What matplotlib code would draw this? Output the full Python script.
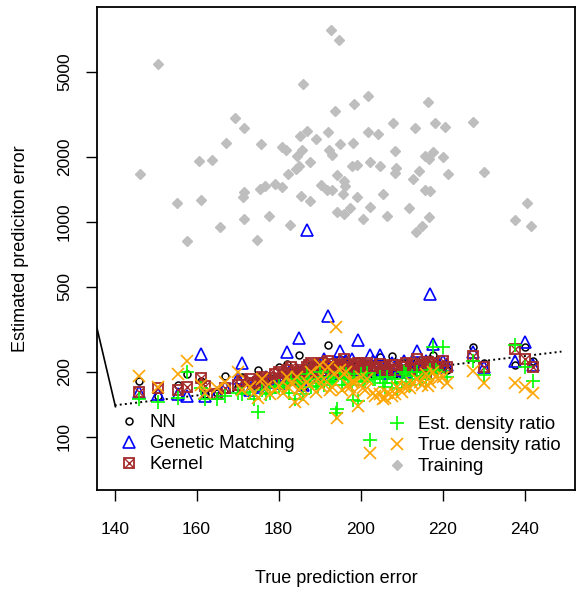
import numpy as np
import matplotlib.pyplot as plt
from matplotlib.lines import Line2D

plt.rcParams['font.family'] = ['Liberation Sans', 'DejaVu Sans']

# training-set error estimates (grey diamonds)
train_x = [150.6, 146.2, 155.2, 157.7, 160.6, 161.1, 163.8, 165.7, 167.2, 169.4,
           171.6, 171.6, 171.3, 171.6, 174.8, 175.7, 175.5, 176.7, 177.7, 179.1,
           180.9, 180.9, 181.9, 182.2, 182.8, 184.3, 185.0, 185.2, 184.5, 185.5,
           186.0, 185.7, 187.0, 187.7, 187.7, 189.1, 190.4, 191.8, 192.0, 192.3,
           192.8, 193.0, 193.0, 193.8, 194.3, 194.3, 194.8, 195.0, 195.7, 196.0,
           196.2, 196.0, 197.4, 197.9, 198.2, 198.4, 199.1, 199.1, 201.8, 216.5,
           207.9, 213.3, 218.2, 220.6, 227.4, 201.8, 204.3, 208.4, 215.7, 216.7,
           217.7, 220.1, 202.3, 204.8, 208.7, 208.4, 214.3, 212.8, 221.3, 230.1,
           205.5, 215.7, 217.0, 202.3, 211.8, 200.6, 206.5, 216.7, 215.0, 213.5,
           240.6, 237.7, 241.6]
train_y = [5443, 1667, 1229, 814, 1919, 1270, 1940, 947, 2333, 3028,
           2746, 1370, 1312, 1033, 822, 2308, 1415, 1463, 1067, 1495,
           2234, 1447, 2162, 1667, 968, 1759, 1817, 2518, 2025, 1326,
           4381, 2162, 2658, 1898, 1256, 2437, 1478, 1400, 2629, 2162,
           7790, 2048, 1400, 3268, 1648, 1115, 6987, 2308, 1341, 1544,
           1463, 1091, 1164, 1817, 2333, 3526, 1837, 1312, 3845, 3603,
           2900, 2746, 2900, 2776, 2931, 2629, 2573, 2139, 2025, 1961,
           2116, 2004, 1898, 1817, 1778, 1685, 1722, 1578, 1667, 1703,
           1355, 1400, 1385, 1177, 1164, 1033, 1067, 1056, 957, 897,
           1229, 1022, 957]

# true prediction error and the estimates of each method
true_err = [146.0, 150.5, 155.5, 157.7, 161.0, 162.0, 165.0, 167.0, 170.0, 171.0,
            173.0, 175.0, 176.0, 178.0, 180.0, 181.0, 182.0, 183.0, 184.0, 185.0,
            186.0, 187.0, 188.0, 189.0, 190.0, 191.0, 192.0, 193.0, 194.0, 195.0,
            196.0, 197.0, 198.0, 199.4, 200.0, 201.0, 202.3, 203.0, 204.8, 206.0,
            207.7, 209.0, 210.0, 211.0, 212.0, 213.8, 215.0, 216.0, 217.0, 217.7,
            219.0, 220.0, 221.0, 227.4, 230.0, 237.7, 240.0, 242.0, 185.5, 187.5,
            189.5, 190.5, 192.5, 193.5, 195.5, 196.5, 197.5, 198.5, 200.5, 201.5,
            203.5, 205.5, 206.5, 208.5, 210.5, 212.5, 214.5, 216.5, 218.5, 179.0,
            177.0, 174.0, 184.5, 182.5, 194.3, 198.2]
nn_est = [182, 155, 175, 196, 182, 158, 160, 192, 170, 190,
          178, 205, 172, 185, 210, 195, 218, 200, 188, 240,
          170, 205, 215, 190, 225, 200, 266, 210, 195, 230,
          205, 215, 190, 225, 210, 200, 215, 195, 235, 205,
          238, 200, 195, 210, 215, 225, 210, 205, 230, 240,
          215, 210, 205, 262, 220, 215, 262, 225, 195, 205,
          200, 212, 195, 205, 200, 220, 205, 210, 195, 215,
          205, 200, 212, 195, 220, 205, 210, 200, 215, 190,
          180, 175, 200, 190, 200, 210]
gm_est = [162, 158, 158, 155, 243, 155, 160, 170, 188, 220,
          165, 175, 170, 180, 178, 200, 248, 190, 185, 287,
          175, 917, 200, 205, 215, 230, 364, 205, 220, 250,
          215, 200, 230, 281, 215, 205, 240, 225, 240, 210,
          220, 215, 205, 200, 210, 250, 215, 225, 462, 270,
          220, 225, 215, 247, 210, 226, 275, 215, 200, 190,
          210, 200, 210, 215, 198, 225, 210, 205, 200, 210,
          215, 205, 198, 210, 225, 215, 205, 220, 210, 185,
          190, 180, 205, 200, 215, 205]
kernel_est = [162, 168, 165, 170, 188, 172, 158, 168, 175, 182,
              185, 180, 190, 188, 200, 185, 205, 210, 192, 200,
              195, 210, 220, 198, 212, 200, 225, 218, 200, 215,
              230, 205, 210, 220, 208, 215, 205, 212, 218, 200,
              215, 205, 210, 220, 205, 230, 215, 200, 218, 220,
              212, 225, 210, 237, 212, 255, 230, 210, 205, 215,
              205, 220, 210, 205, 212, 218, 200, 215, 210, 220,
              208, 212, 205, 215, 212, 218, 210, 222, 212, 195,
              185, 178, 185, 198, 205, 212]
edr_est = [150, 145, 152, 200, 168, 150, 150, 155, 160, 158,
           162, 130, 165, 160, 172, 168, 178, 185, 150, 180,
           158, 195, 170, 178, 200, 175, 190, 182, 129, 198,
           185, 190, 175, 146, 195, 182, 97, 185, 190, 170,
           178, 168, 180, 195, 175, 200, 190, 185, 205, 262,
           200, 262, 190, 226, 193, 268, 210, 182, 178, 185,
           172, 190, 180, 188, 175, 195, 185, 190, 180, 198,
           185, 178, 190, 185, 200, 192, 185, 195, 205, 170,
           158, 150, 180, 160, 135, 149]
tdr_est = [192, 170, 195, 226, 175, 160, 168, 180, 200, 165,
           170, 152, 185, 158, 172, 160, 190, 178, 145, 165,
           150, 180, 200, 162, 215, 185, 210, 170, 323, 205,
           195, 175, 180, 139, 190, 165, 84, 160, 158, 152,
           155, 170, 162, 175, 168, 185, 175, 195, 180, 200,
           185, 190, 178, 203, 178, 178, 170, 160, 170, 175,
           185, 170, 165, 195, 165, 200, 170, 180, 168, 185,
           155, 150, 160, 158, 170, 178, 180, 172, 190, 165,
           170, 160, 190, 168, 122, 160]

# reference lines
diag_x = [140, 249]
edge_x = [135.7, 140.2]
edge_y = [320, 138]

fig = plt.figure(figsize=(5.79, 5.89), dpi=100)
ax = fig.add_axes([97 / 579, 1 - 490 / 589, 478 / 579, 483 / 589])

ax.plot(train_x, train_y, 'D', ms=5.5, color='#BEBEBE', mec='#BEBEBE', zorder=2)
ax.plot(diag_x, diag_x, ':', color='black', lw=1.4, zorder=1)
ax.plot(edge_x, edge_y, '-', color='black', lw=1.2, zorder=1)

ax.plot(true_err, nn_est, 'o', ms=5, mfc='none', mec='black', mew=1.1, zorder=3)
ax.plot(true_err, gm_est, '^', ms=8, mfc='none', mec='blue', mew=1.2, zorder=3)
ax.plot(true_err, kernel_est, 's', ms=7.5, mfc='none', mec='#A52A2A', mew=1.3, zorder=3)
ax.plot(true_err, kernel_est, 'x', ms=7, mec='#A52A2A', mew=1.0, zorder=3)
ax.plot(true_err, edr_est, '+', ms=10, mec='#00FF00', mew=1.2, zorder=3)
ax.plot(true_err, tdr_est, 'x', ms=8, mec='#FFA500', mew=1.2, zorder=3)

ax.set_yscale('log')
ax.set_xlim(135.7, 252.3)
ax.set_ylim(56.5, 10000)
ax.set_xticks([140, 160, 180, 200, 220, 240])
ax.set_xticklabels(['140', '160', '180', '200', '220', '240'])
ax.set_yticks([100, 200, 500, 1000, 2000, 5000])
ax.set_yticklabels(['100', '200', '500', '1000', '2000', '5000'], rotation=90, va='center')
ax.minorticks_off()
ax.tick_params(direction='out', length=8, width=1, labelsize=12.5)
ax.tick_params(axis='x', pad=15)
ax.tick_params(axis='y', pad=10)
for s in ax.spines.values():
    s.set_linewidth(1.3)

ax.set_xlabel('True prediction error', fontsize=13, labelpad=24)
ax.set_ylabel('Estimated prediciton error', fontsize=13, labelpad=20)

h1 = [Line2D([], [], ls='none', marker='o', ms=5, mfc='none', mec='black', mew=1.1),
      Line2D([], [], ls='none', marker='^', ms=8, mfc='none', mec='blue', mew=1.2),
      (Line2D([], [], ls='none', marker='s', ms=7.5, mfc='none', mec='#A52A2A', mew=1.3),
       Line2D([], [], ls='none', marker='x', ms=7, mec='#A52A2A', mew=1.0))]
h2 = [Line2D([], [], ls='none', marker='+', ms=10, mec='#00FF00', mew=1.2),
      Line2D([], [], ls='none', marker='x', ms=8, mec='#FFA500', mew=1.2),
      Line2D([], [], ls='none', marker='D', ms=5.5, color='#BEBEBE')]
leg1 = ax.legend(h1, ['NN', 'Genetic Matching', 'Kernel'], loc='upper left',
                 bbox_to_anchor=((120 - 97) / 478, (490 - 414) / 483), frameon=False,
                 fontsize=13.4, handlelength=1.0, handletextpad=0.6, labelspacing=0.22,
                 borderpad=0, borderaxespad=0)
ax.add_artist(leg1)
ax.legend(h2, ['Est. density ratio', 'True density ratio', 'Training'], loc='upper left',
          bbox_to_anchor=((388 - 97) / 478, (490 - 416) / 483), frameon=False,
          fontsize=13.4, handlelength=1.0, handletextpad=0.6, labelspacing=0.22,
          borderpad=0, borderaxespad=0)

fig.savefig('out.png', dpi=100)
